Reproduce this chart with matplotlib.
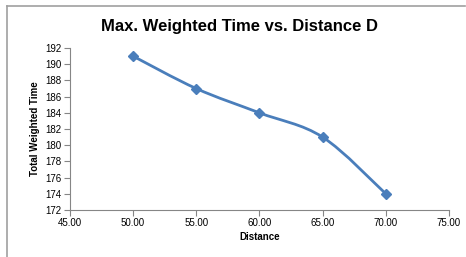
import numpy as np
import matplotlib
matplotlib.use("Agg")
import matplotlib.pyplot as plt
from matplotlib.path import Path
from matplotlib.patches import PathPatch
from matplotlib.lines import Line2D

distance = [50, 55, 60, 65, 70]
weighted_time = [191, 187, 184, 181, 174]
x_ticks = [45, 50, 55, 60, 65, 70, 75]
y_ticks = [172, 174, 176, 178, 180, 182, 184, 186, 188, 190, 192]

plt.rcParams['font.family'] = ['Liberation Sans', 'DejaVu Sans']

fig = plt.figure(figsize=(4.66, 2.57), dpi=100)
ax = fig.add_axes([0.150, 0.183, 0.8135, 0.630])

# smoothed line like excel (catmull-rom bezier)
pts = np.column_stack([distance, weighted_time]).astype(float)
verts = [pts[0]]
codes = [Path.MOVETO]
n = len(pts)
for i in range(n - 1):
    p0 = pts[i - 1] if i > 0 else pts[i]
    p1 = pts[i]
    p2 = pts[i + 1]
    p3 = pts[i + 2] if i + 2 < n else pts[i + 1]
    c1 = p1 + (p2 - p0) / 6.0
    c2 = p2 - (p3 - p1) / 6.0
    verts += [c1, c2, p2]
    codes += [Path.CURVE4] * 3
color = '#4a7ebb'
ax.add_patch(PathPatch(Path(verts, codes), facecolor='none', edgecolor=color, lw=2.0))
ax.plot(distance, weighted_time, linestyle='none', marker='D', markersize=5.5,
        color=color)

ax.set_xlim(45, 75)
ax.set_ylim(172, 192)
ax.set_xticks(x_ticks)
ax.set_xticklabels(['%.2f' % v for v in x_ticks])
ax.set_yticks(y_ticks)
ax.tick_params(labelsize=7, length=4, width=0.8, color='#868686', pad=2)
for s in ['top', 'right']:
    ax.spines[s].set_visible(False)
for s in ['left', 'bottom']:
    ax.spines[s].set_color('#868686')
    ax.spines[s].set_linewidth(0.8)

ax.set_xlabel('Distance', fontsize=7, fontweight='bold', labelpad=3)
ax.set_ylabel('Total Weighted Time', fontsize=7, fontweight='bold', labelpad=4)
fig.text(0.515, 0.895, 'Max. Weighted Time vs. Distance D', ha='center', va='center',
         fontsize=12, fontweight='bold')

# chart area border (left and top visible)
fig.add_artist(Line2D([0.016, 0.016], [0, 0.978], color='#a0a0a0', lw=1.2))
fig.add_artist(Line2D([0.016, 0.998], [0.978, 0.978], color='#a0a0a0', lw=1.2))

fig.savefig('out.png', dpi=100)
